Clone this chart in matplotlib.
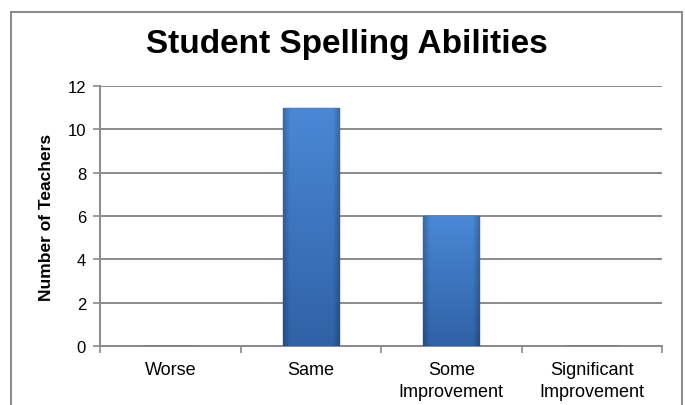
import matplotlib
matplotlib.use("Agg")
import matplotlib.pyplot as plt
import numpy as np
from matplotlib.patches import Rectangle
from matplotlib.colors import to_rgb

categories = ["Worse", "Same", "Some\nImprovement", "Significant\nImprovement"]
values = [0, 11, 6, 0]
yticks = [0, 2, 4, 6, 8, 10, 12]
title = "Student Spelling Abilities"
ylabel = "Number of Teachers"

plt.rcParams['font.family'] = ['Liberation Sans', 'DejaVu Sans']

W, H = 685, 406
fig = plt.figure(figsize=(W/100, H/100), dpi=100)
fig.patch.set_facecolor("white")

# outer chart frame (open at bottom, as in reference)
fig.add_artist(Rectangle((11/W, -0.05), (682-11)/W, 1.05 - 13/H, transform=fig.transFigure,
                         fill=False, edgecolor="#8c8c8c", linewidth=1.5))

ax = fig.add_axes([100/W, 1-347/H, (662-100)/W, (347-87)/H])
x = list(range(len(categories)))
bars = ax.bar(x, values, width=0.4, color="#3f78c4", edgecolor="#2a568f", linewidth=1.0, zorder=3)

# shaded fill inside each bar: lighter at top, darker at bottom, darker at sides
top = np.array(to_rgb("#4a88d6"))
bot = np.array(to_rgb("#2f62a6"))
ny, nx = 128, 64
tv = np.linspace(0, 1, ny).reshape(-1, 1, 1)
col = top * (1 - tv) + bot * tv
u = np.linspace(0, 1, nx)
edge = 1 - 0.22 * np.clip(1 - np.minimum(u, 1 - u) / 0.12, 0, 1)
img = col * edge.reshape(1, -1, 1)
for b in bars:
    if b.get_height() <= 0:
        continue
    x0, w, h = b.get_x(), b.get_width(), b.get_height()
    im = ax.imshow(img, aspect="auto", extent=(x0, x0 + w, 0, h), origin="upper",
                   interpolation="bilinear", zorder=3.5)
    im.set_clip_path(b)
ax.set_xlim(-0.5, len(categories)-0.5)
ax.set_ylim(0, 12)

ax.set_yticks(yticks)
ax.set_yticklabels([str(v) for v in yticks], fontsize=12)
ax.yaxis.grid(True, color="#8a8a8a", linewidth=1.4, zorder=0)
ax.set_xticks(x)
ax.set_xticklabels(categories, fontsize=13, linespacing=1.35)
ax.set_xticks([i - 0.5 for i in range(len(categories)+1)], minor=True)
ax.tick_params(axis='x', which='major', length=0, pad=11)
ax.tick_params(axis='x', which='minor', length=5, color="#8a8a8a", width=1.2)
ax.tick_params(axis='y', length=5, color="#8a8a8a", width=1.2, pad=5)
for s in ["top", "right"]:
    ax.spines[s].set_visible(False)
for s in ["left", "bottom"]:
    ax.spines[s].set_color("#8a8a8a")
    ax.spines[s].set_linewidth(1.4)
ax.set_ylabel(ylabel, fontsize=12.5, fontweight="bold", labelpad=10)
fig.text(0.5 + 4/W, 1 - 45/H, title, ha="center", va="center", fontsize=24, fontweight="bold")

fig.savefig("out.png", dpi=100)
